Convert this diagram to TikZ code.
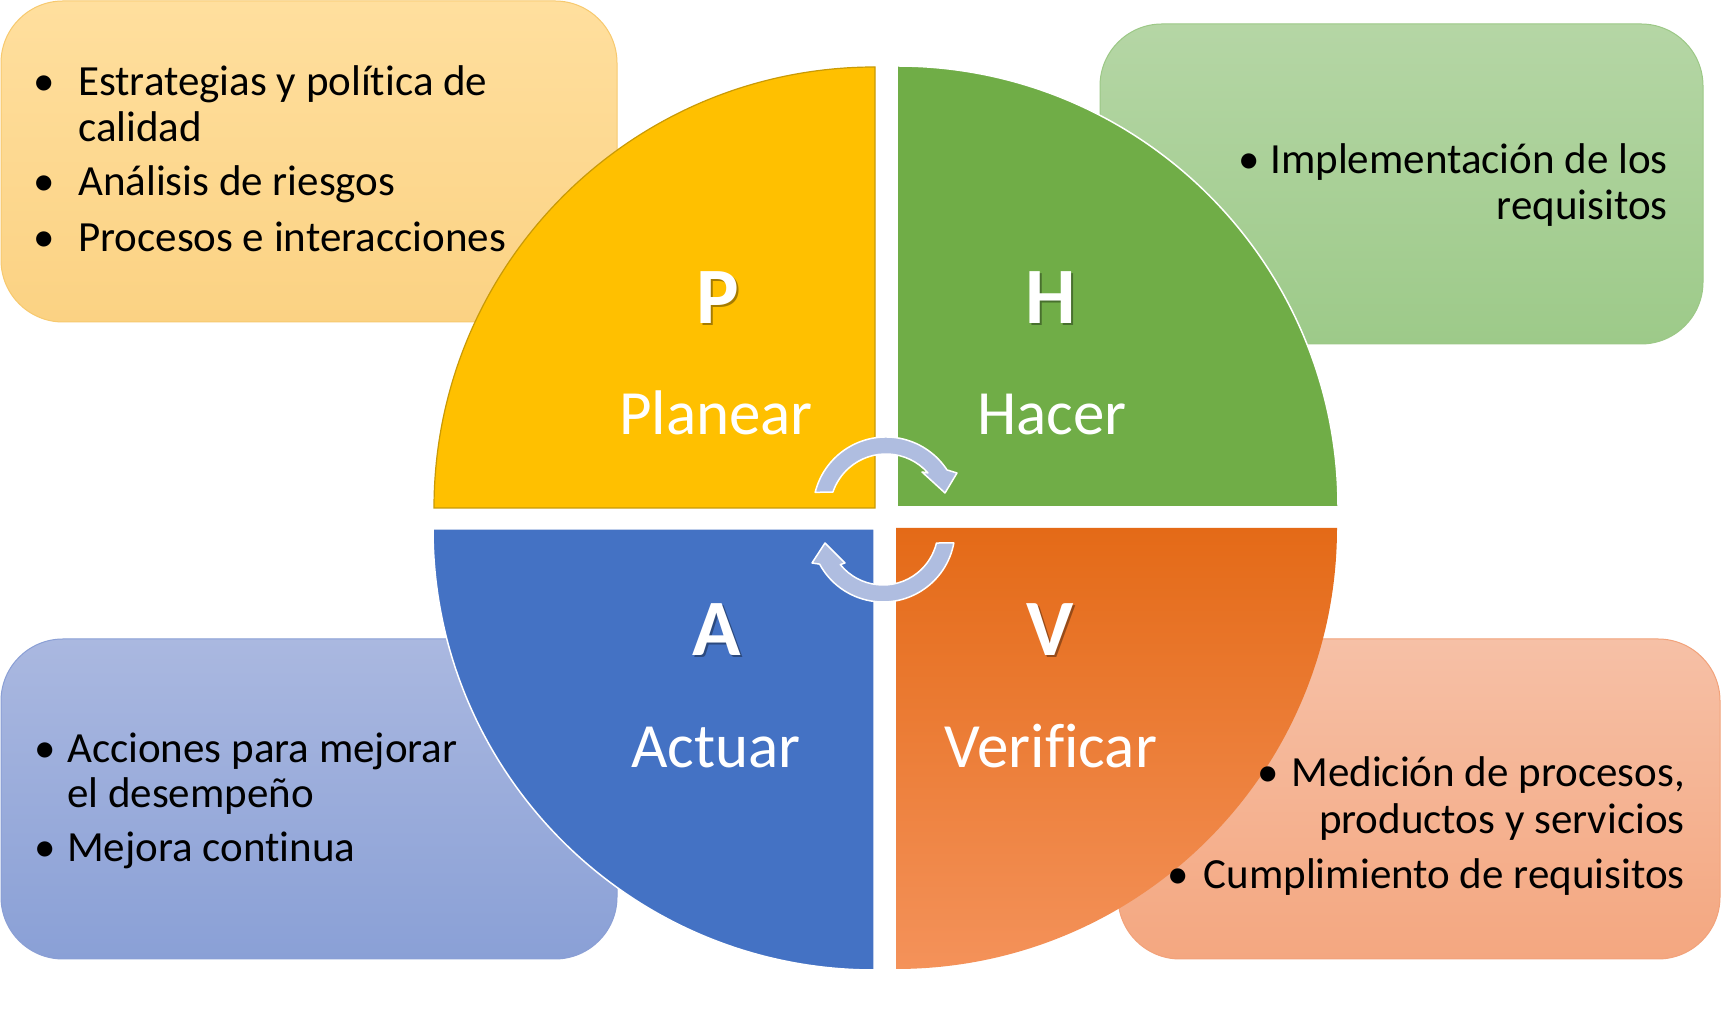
\documentclass[tikz,border=0pt]{standalone}
\usepackage{fontspec}
\setmainfont{Carlito}[Ligatures={NoCommon}]
\definecolor{qyel}{HTML}{FFC000}
\definecolor{qyeldk}{HTML}{C99A06}
\definecolor{qgreen}{HTML}{70AD47}
\definecolor{qblue}{HTML}{4472C4}
\definecolor{qorTop}{HTML}{E46A17}
\definecolor{qorBot}{HTML}{F4925A}
\definecolor{bTLtop}{HTML}{FFDF9E}
\definecolor{bTLbot}{HTML}{FBD283}
\definecolor{bTLedge}{HTML}{F7C96E}
\definecolor{bTRtop}{HTML}{B5D6A5}
\definecolor{bTRbot}{HTML}{9DCA89}
\definecolor{bTRedge}{HTML}{9CC886}
\definecolor{bBLtop}{HTML}{AAB8E0}
\definecolor{bBLbot}{HTML}{8AA0D6}
\definecolor{bBLedge}{HTML}{8A9FD5}
\definecolor{bBRtop}{HTML}{F6C0A6}
\definecolor{bBRbot}{HTML}{F4A780}
\definecolor{bBRedge}{HTML}{F2A27A}
\definecolor{arrowblue}{HTML}{AFBDE0}
\begin{document}
\begin{tikzpicture}[x=1pt,y=1pt,
  infobox/.style={rounded corners=62pt, line width=1pt},
  boxtext/.style={inner sep=0pt, font=\fontsize{43}{46}\selectfont, text=black},
  letter/.style={inner sep=0pt, font=\fontsize{80}{80}\selectfont\bfseries, text=white, anchor=base},
  lettershadow/.style={letter, text=black, opacity=0.35},
  lbl/.style={inner sep=0pt, font=\fontsize{63}{63}\selectfont, text=white, anchor=base},
  cyclearrow/.style={fill=arrowblue, draw=white, line width=1.5pt, line join=round}
]
\useasboundingbox (0,0) rectangle (1722,1030);
\fill[white] (0,0) rectangle (1722,1030);

% info boxes
\shadedraw[infobox, top color=bTLtop, bottom color=bTLbot, draw=bTLedge] (1,708) rectangle (617,1029);
\shadedraw[infobox, top color=bTRtop, bottom color=bTRbot, draw=bTRedge] (1100,686) rectangle (1703,1006);
\shadedraw[infobox, top color=bBLtop, bottom color=bBLbot, draw=bBLedge] (1,71) rectangle (617,391);
\shadedraw[infobox, top color=bBRtop, bottom color=bBRbot, draw=bBRedge] (1118,71) rectangle (1720,391);

% quadrants
\filldraw[fill=qyel, draw=qyeldk, line width=1.2pt] (875,522) -- (434,522) arc[start angle=180, end angle=90, radius=441] -- cycle;
\filldraw[fill=qgreen, draw=white, line width=1.5pt] (897,523) -- (897,964) arc[start angle=90, end angle=0, radius=441] -- cycle;
\filldraw[fill=qblue, draw=white, line width=1.5pt] (874,501) -- (433,501) arc[start angle=180, end angle=270, radius=441] -- cycle;
\shade[top color=qorTop, bottom color=qorBot] (896,502) -- (1337,502) arc[start angle=0, end angle=-90, radius=441] -- cycle;

% box texts
\node[boxtext, anchor=base] (tlb1) at (44,934) {•};
\node[boxtext, anchor=base west] (tl1) at (78,934) {Estrategias y política de};
\node[boxtext, anchor=base west] (tl1b) at (78,888) {calidad};
\node[boxtext, anchor=base] (tlb2) at (44,834) {•};
\node[boxtext, anchor=base west] (tl2) at (78,834) {Análisis de riesgos};
\node[boxtext, anchor=base] (tlb3) at (44,778) {•};
\node[boxtext, anchor=base west] (tl3) at (78,778) {Procesos e interacciones};

\node[boxtext, anchor=base] (trb1) at (1249,856) {•};
\node[boxtext, anchor=base east] (tr1) at (1668,856) {Implementación de los};
\node[boxtext, anchor=base east] (tr1b) at (1668,810) {requisitos};

\node[boxtext, anchor=base] (blb1) at (45,267) {•};
\node[boxtext, anchor=base west] (bl1) at (67,267) {Acciones para mejorar};
\node[boxtext, anchor=base west] (bl1b) at (67,222) {el desempeño};
\node[boxtext, anchor=base] (blb2) at (45,168) {•};
\node[boxtext, anchor=base west] (bl2) at (67,168) {Mejora continua};

\node[boxtext, anchor=base] (brb1) at (1268,243) {•};
\node[boxtext, anchor=base east] (br1) at (1685,243) {Medición de procesos,};
\node[boxtext, anchor=base east] (br1b) at (1685,196) {productos y servicios};
\node[boxtext, anchor=base] (brb2) at (1178,141) {•};
\node[boxtext, anchor=base east] (br2) at (1685,141) {Cumplimiento de requisitos};

% quadrant labels
\node[lettershadow] (Ps) at (720,704) {P};
\node[letter] (P) at (718,706) {P};
\node[lbl] (planear) at (716,595) {Planear};
\node[lettershadow] (Hs) at (1053,704) {H};
\node[letter] (H) at (1051,706) {H};
\node[lbl] (hacer) at (1052,595) {Hacer};
\node[lettershadow] (As) at (719,372) {A};
\node[letter] (A) at (717,374) {A};
\node[lbl] (actuar) at (716,262) {Actuar};
\node[lettershadow] (Vs) at (1052,372) {V};
\node[letter] (V) at (1050,374) {V};
\node[lbl] (verificar) at (1051,262) {Verificar};

% cycle arrows
\path[cyclearrow] ([shift={(166:73)}]886,520) arc[start angle=166, end angle=33.3, radius=73]
  -- (957,557) -- (945,537) -- (922,558) -- (927.9,557.1)
  arc[start angle=41.5, end angle=161.3, radius=56] -- cycle;
\path[cyclearrow] ([shift={(-10.4:72)}]883,500) arc[start angle=-10.4, end angle=-151.7, radius=72]
  -- (812,467) -- (825,487) -- (845,467) -- (840.3,465.4)
  arc[start angle=-141, end angle=-13.7, radius=55] -- cycle;
\end{tikzpicture}
\end{document}
